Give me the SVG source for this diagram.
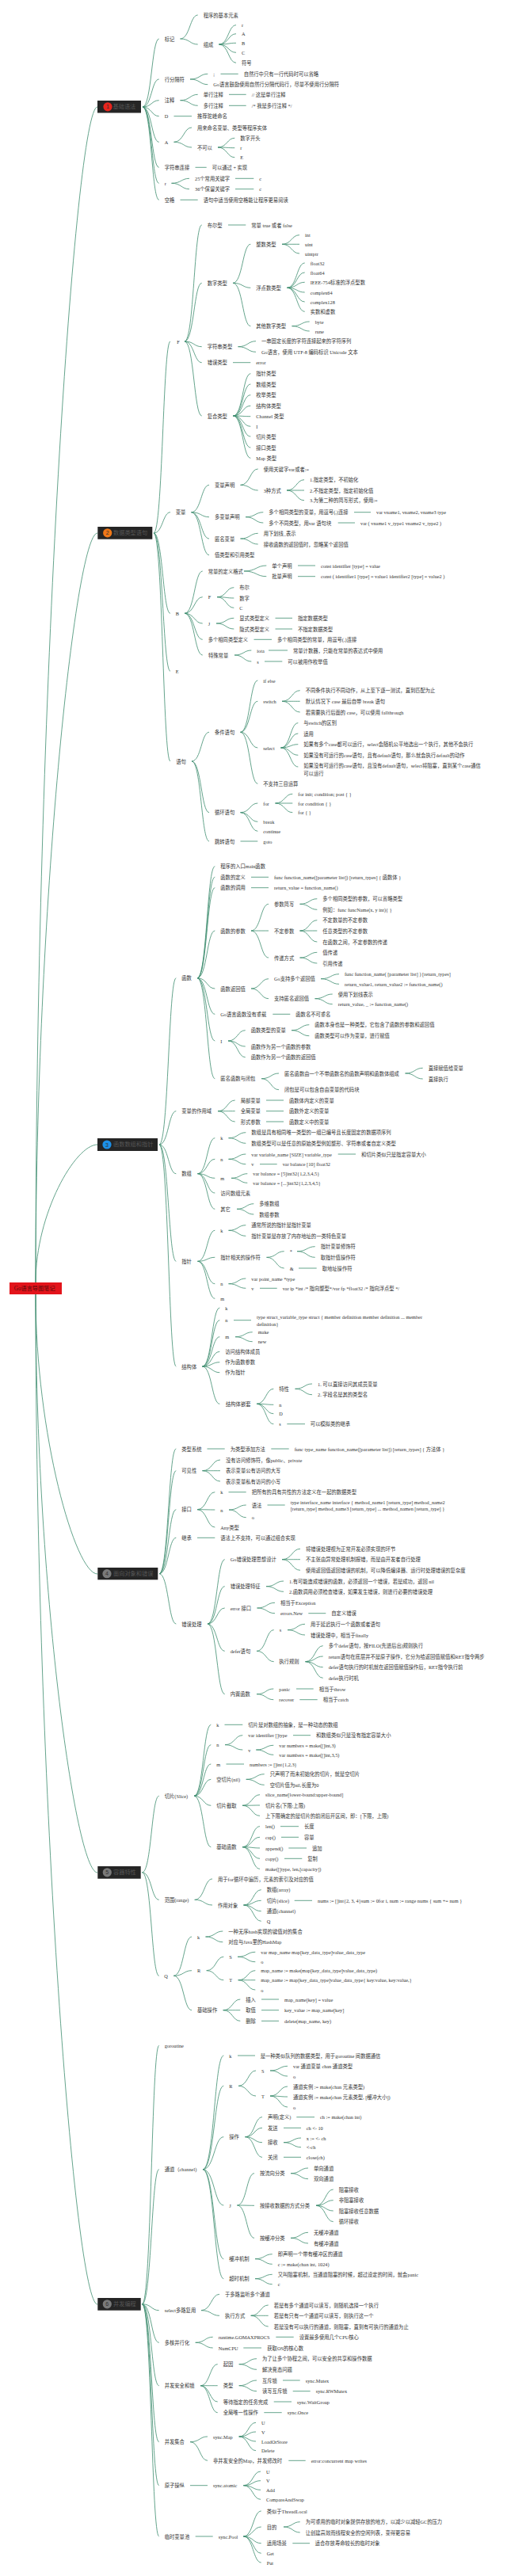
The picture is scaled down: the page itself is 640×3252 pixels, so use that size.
<svg xmlns="http://www.w3.org/2000/svg" width="640" height="3252" viewBox="0 0 640 3252">
<style>
text{font-family:"Liberation Serif","Noto Sans CJK SC",serif;font-size:6.3px;fill:#333;dominant-baseline:central}
.c{fill:none;stroke:#3e8d6e;stroke-width:0.8}
.bx{fill:#252525}
.bt{font-size:7.2px;fill:#555}
.num{font-family:"Liberation Sans","Noto Sans CJK SC",sans-serif;font-size:7px;text-anchor:middle}
.rt{font-size:7.2px;fill:#5a0a0a}
</style>
<rect width="640" height="3252" fill="#fff"/>
<g id="connectors">
<path class="c" d="M45 1619C45 877 95 135 123 135M45 1619C45 1146 95 673 123 673M45 1619C45 1532 95 1445 123 1445M45 1634C45 1810 95 1987 123 1987M45 1634C45 1999 95 2364 123 2364M45 1634C45 2271 95 2909 123 2909"/>
<path class="c" d="M180 135C191.4 135 191.4 49 200.7 49M180 135C191.4 135 191.4 100 200.7 100M180 135C191.4 135 191.4 126.7 200.7 126.7M180 135C191.4 135 191.4 146.7 200.7 146.7M180 135C191.4 135 191.4 179.3 200.7 179.3M180 135C191.4 135 191.4 211.3 200.7 211.3M180 135C191.4 135 191.4 231.3 200.7 231.3M180 135C191.4 135 191.4 252.3 200.7 252.3"/>
<path class="c" d="M227.5 49C239.7 49 239.7 19 249.7 19M227.5 49C239.7 49 239.7 56 249.7 56"/>
<path class="c" d="M276.5 56C288.3 56 288.3 31.7 298 31.7M276.5 56C288.3 56 288.3 42.7 298 42.7M276.5 56C288.3 56 288.3 54.3 298 54.3M276.5 56C288.3 56 288.3 66.3 298 66.3M276.5 56C288.3 56 288.3 79.3 298 79.3"/>
<path class="c" d="M240 100C252.3 100 252.3 93.3 262.3 93.3M240 100C252.3 100 252.3 106.7 262.3 106.7M278.5 93.3H300.7"/>
<path class="c" d="M227.5 126.7C239.7 126.7 239.7 119.3 249.7 119.3M227.5 126.7C239.7 126.7 239.7 133.3 249.7 133.3M289 119.3H310.7M289 133.3H310.7M219.5 146.7H242"/>
<path class="c" d="M219.5 179.3C231.9 179.3 231.9 161 242 161M219.5 179.3C231.9 179.3 231.9 186 242 186"/>
<path class="c" d="M275 186C286.7 186 286.7 174.3 296.3 174.3M275 186C286.7 186 286.7 186.7 296.3 186.7M275 186C286.7 186 286.7 198.7 296.3 198.7M246.5 211.3H260.7"/>
<path class="c" d="M216.5 231.3C228.9 231.3 228.9 225.3 239 225.3M216.5 231.3C228.9 231.3 228.9 238.7 239 238.7M297 225.3H320.3M297 238.7H320.3M227.5 252.3H249.7"/>
<path class="c" d="M194 673C205.5 673 205.5 431 215 431M194 673C205.5 673 205.5 646.7 215 646.7M194 673C205.5 673 205.5 774.3 215 774.3M194 673C205.5 673 205.5 847.3 215 847.3M194 673C205.5 673 205.5 961 215 961"/>
<path class="c" d="M233 431C244.9 431 244.9 284 254.7 284M233 431C244.9 431 244.9 357.3 254.7 357.3M233 431C244.9 431 244.9 437.7 254.7 437.7M233 431C244.9 431 244.9 457.7 254.7 457.7M233 431C244.9 431 244.9 525 254.7 525M288 284H310.3"/>
<path class="c" d="M294 357.3C306.3 357.3 306.3 308.3 316.3 308.3M294 357.3C306.3 357.3 306.3 363.3 316.3 363.3M294 357.3C306.3 357.3 306.3 411.7 316.3 411.7"/>
<path class="c" d="M356 308.3C368.1 308.3 368.1 296.7 378 296.7M356 308.3C368.1 308.3 368.1 308.3 378 308.3M356 308.3C368.1 308.3 368.1 320 378 320"/>
<path class="c" d="M362.5 363.3C374.7 363.3 374.7 332 384.7 332M362.5 363.3C374.7 363.3 374.7 344 384.7 344M362.5 363.3C374.7 363.3 374.7 356.3 384.7 356.3M362.5 363.3C374.7 363.3 374.7 369 384.7 369M362.5 363.3C374.7 363.3 374.7 381 384.7 381M362.5 363.3C374.7 363.3 374.7 393.3 384.7 393.3"/>
<path class="c" d="M368.5 411.7C380.7 411.7 380.7 406 390.7 406M368.5 411.7C380.7 411.7 380.7 418 390.7 418"/>
<path class="c" d="M300.5 437.7C312.9 437.7 312.9 430.7 323 430.7M300.5 437.7C312.9 437.7 312.9 444.3 323 444.3M294 457.7H316.3"/>
<path class="c" d="M294.5 525C306.5 525 306.5 471.7 316.3 471.7M294.5 525C306.5 525 306.5 485 316.3 485M294.5 525C306.5 525 306.5 498.7 316.3 498.7M294.5 525C306.5 525 306.5 512.3 316.3 512.3M294.5 525C306.5 525 306.5 525.7 316.3 525.7M294.5 525C306.5 525 306.5 538.3 316.3 538.3M294.5 525C306.5 525 306.5 551 316.3 551M294.5 525C306.5 525 306.5 565 316.3 565M294.5 525C306.5 525 306.5 578.3 316.3 578.3"/>
<path class="c" d="M241.5 646.7C253.9 646.7 253.9 612.3 264 612.3M241.5 646.7C253.9 646.7 253.9 652.7 264 652.7M241.5 646.7C253.9 646.7 253.9 680 264 680M241.5 646.7C253.9 646.7 253.9 700.7 264 700.7"/>
<path class="c" d="M303.5 612.3C315.7 612.3 315.7 592 325.7 592M303.5 612.3C315.7 612.3 315.7 619 325.7 619"/>
<path class="c" d="M362 619C374.1 619 374.1 605.7 384 605.7M362 619C374.1 619 374.1 619 384 619M362 619C374.1 619 374.1 631.7 384 631.7"/>
<path class="c" d="M310 652.7C322.3 652.7 322.3 646.7 332.3 646.7M310 652.7C322.3 652.7 322.3 660 332.3 660M447 646.7H468M426.7 660H448"/>
<path class="c" d="M303.5 680C315.7 680 315.7 673.3 325.7 673.3M303.5 680C315.7 680 315.7 687 325.7 687"/>
<path class="c" d="M233 774.3C245.5 774.3 245.5 721 255.7 721M233 774.3C245.5 774.3 245.5 753.7 255.7 753.7M233 774.3C245.5 774.3 245.5 787 255.7 787M233 774.3C245.5 774.3 245.5 807.3 255.7 807.3M233 774.3C245.5 774.3 245.5 827 255.7 827"/>
<path class="c" d="M308 721C323.6 721 323.6 714 336.3 714M308 721C323.6 721 323.6 727.7 336.3 727.7M376 714H398M376 727.7H398"/>
<path class="c" d="M274 753.7C285.7 753.7 285.7 741.7 295.3 741.7M274 753.7C285.7 753.7 285.7 755 295.3 755M274 753.7C285.7 753.7 285.7 767.3 295.3 767.3"/>
<path class="c" d="M273 787C285.3 787 285.3 780.3 295.3 780.3M273 787C285.3 787 285.3 794 295.3 794M347.5 780.3H369M347.5 794H369M320.5 807.3H343"/>
<path class="c" d="M296 827C307.7 827 307.7 821 317.3 821M296 827C307.7 827 307.7 835 317.3 835M339 821H363M334 835H356.3"/>
<path class="c" d="M242 961C254.1 961 254.1 924.3 264 924.3M242 961C254.1 961 254.1 1025.7 264 1025.7M242 961C254.1 961 254.1 1062 264 1062"/>
<path class="c" d="M303.5 924.3C315.5 924.3 315.5 859 325.3 859M303.5 924.3C315.5 924.3 315.5 885.3 325.3 885.3M303.5 924.3C315.5 924.3 315.5 944 325.3 944M303.5 924.3C315.5 924.3 315.5 989.3 325.3 989.3"/>
<path class="c" d="M356 885.3C368.5 885.3 368.5 871.7 378.7 871.7M356 885.3C368.5 885.3 368.5 885.3 378.7 885.3M356 885.3C368.5 885.3 368.5 899 378.7 899"/>
<path class="c" d="M354.5 944C366.5 944 366.5 912.7 376.3 912.7M354.5 944C366.5 944 366.5 926 376.3 926M354.5 944C366.5 944 366.5 939.7 376.3 939.7M354.5 944C366.5 944 366.5 953.3 376.3 953.3M354.5 944C366.5 944 366.5 968 376.3 968"/>
<path class="c" d="M303.5 1025.7C315.5 1025.7 315.5 1014 325.3 1014M303.5 1025.7C315.5 1025.7 315.5 1037.3 325.3 1037.3M303.5 1025.7C315.5 1025.7 315.5 1049.3 325.3 1049.3"/>
<path class="c" d="M347.5 1014C359.5 1014 359.5 1002.3 369.3 1002.3M347.5 1014C359.5 1014 359.5 1014 369.3 1014M347.5 1014C359.5 1014 359.5 1025.7 369.3 1025.7M303.5 1062H325.3"/>
<path class="c" d="M201 1445C212.7 1445 212.7 1234.7 222.3 1234.7M201 1445C212.7 1445 212.7 1402.7 222.3 1402.7M201 1445C212.7 1445 212.7 1481.7 222.3 1481.7M201 1445C212.7 1445 212.7 1592.3 222.3 1592.3M201 1445C212.7 1445 212.7 1725 222.3 1725"/>
<path class="c" d="M249 1234.7C261.3 1234.7 261.3 1093.7 271.3 1093.7M249 1234.7C261.3 1234.7 261.3 1107.3 271.3 1107.3M249 1234.7C261.3 1234.7 261.3 1120.7 271.3 1120.7M249 1234.7C261.3 1234.7 261.3 1175 271.3 1175M249 1234.7C261.3 1234.7 261.3 1248 271.3 1248M249 1234.7C261.3 1234.7 261.3 1280.3 271.3 1280.3M249 1234.7C261.3 1234.7 261.3 1314 271.3 1314M249 1234.7C261.3 1234.7 261.3 1361.7 271.3 1361.7M317 1107.3H339M317 1120.7H339"/>
<path class="c" d="M317 1175C329.1 1175 329.1 1141.3 339 1141.3M317 1175C329.1 1175 329.1 1175 339 1175M317 1175C329.1 1175 329.1 1209 339 1209"/>
<path class="c" d="M378.5 1141.3C390.5 1141.3 390.5 1134.7 400.3 1134.7M378.5 1141.3C390.5 1141.3 390.5 1148.3 400.3 1148.3M378.5 1175C390.5 1175 390.5 1161.7 400.3 1161.7M378.5 1175C390.5 1175 390.5 1175 400.3 1175M378.5 1175C390.5 1175 390.5 1189 400.3 1189M378.5 1209C390.5 1209 390.5 1202.3 400.3 1202.3M378.5 1209C390.5 1209 390.5 1216 400.3 1216"/>
<path class="c" d="M317 1248C329.1 1248 329.1 1235.7 339 1235.7M317 1248C329.1 1248 329.1 1260.7 339 1260.7M405 1235.7C417.7 1235.7 417.7 1229.7 428 1229.7M405 1235.7C417.7 1235.7 417.7 1242.3 428 1242.3M397.5 1260.7C409.7 1260.7 409.7 1255 419.7 1255M397.5 1260.7C409.7 1260.7 409.7 1267.7 419.7 1267.7M344.3 1280.3H366.3"/>
<path class="c" d="M288 1314C299.9 1314 299.9 1300.7 309.7 1300.7M288 1314C299.9 1314 299.9 1321 309.7 1321M288 1314C299.9 1314 299.9 1334.7 309.7 1334.7M368 1300.7C380.3 1300.7 380.3 1293.7 390.3 1293.7M368 1300.7C380.3 1300.7 380.3 1307.7 390.3 1307.7"/>
<path class="c" d="M330 1361.7C342.1 1361.7 342.1 1355 352 1355M330 1361.7C342.1 1361.7 342.1 1375.7 352 1375.7M511.5 1355C523.7 1355 523.7 1348.3 533.7 1348.3M511.5 1355C523.7 1355 523.7 1362 533.7 1362"/>
<path class="c" d="M275 1402.7C286.9 1402.7 286.9 1389 296.7 1389M275 1402.7C286.9 1402.7 286.9 1402.7 296.7 1402.7M275 1402.7C286.9 1402.7 286.9 1416 296.7 1416M336 1389H358M336 1402.7H358M336 1416H358"/>
<path class="c" d="M249.5 1481.7C261.5 1481.7 261.5 1436.7 271.3 1436.7M249.5 1481.7C261.5 1481.7 261.5 1463.3 271.3 1463.3M249.5 1481.7C261.5 1481.7 261.5 1487.3 271.3 1487.3M249.5 1481.7C261.5 1481.7 261.5 1506 271.3 1506M249.5 1481.7C261.5 1481.7 261.5 1526.3 271.3 1526.3"/>
<path class="c" d="M288.5 1436.7C300.5 1436.7 300.5 1429.7 310.3 1429.7M288.5 1436.7C300.5 1436.7 300.5 1443.3 310.3 1443.3M288.5 1463.3C300.5 1463.3 300.5 1457 310.3 1457M288.5 1463.3C300.5 1463.3 300.5 1469.7 310.3 1469.7M426.7 1457H449M328 1469.7H349.7"/>
<path class="c" d="M292 1487.3C303.2 1487.3 303.2 1481.7 312.3 1481.7M292 1487.3C303.2 1487.3 303.2 1493.3 312.3 1493.3M299 1526.3C310.7 1526.3 310.7 1519.7 320.3 1519.7M299 1526.3C310.7 1526.3 310.7 1533 320.3 1533"/>
<path class="c" d="M249.5 1592.3C261.5 1592.3 261.5 1553.3 271.3 1553.3M249.5 1592.3C261.5 1592.3 261.5 1587.3 271.3 1587.3M249.5 1592.3C261.5 1592.3 261.5 1620.7 271.3 1620.7M249.5 1592.3C261.5 1592.3 261.5 1639.3 271.3 1639.3"/>
<path class="c" d="M288.5 1553.3C300.5 1553.3 300.5 1546.7 310.3 1546.7M288.5 1553.3C300.5 1553.3 300.5 1560.3 310.3 1560.3M336.5 1587.3C348.7 1587.3 348.7 1579.7 358.7 1579.7M336.5 1587.3C348.7 1587.3 348.7 1601 358.7 1601M375 1579.7C387.5 1579.7 387.5 1573.7 397.7 1573.7M375 1579.7C387.5 1579.7 387.5 1587.3 397.7 1587.3M377 1601H399.7"/>
<path class="c" d="M288.5 1620.7C300.5 1620.7 300.5 1614 310.3 1614M288.5 1620.7C300.5 1620.7 300.5 1626.3 310.3 1626.3M328 1626.3H349.7"/>
<path class="c" d="M255.5 1725C267.5 1725 267.5 1651 277.3 1651M255.5 1725C267.5 1725 267.5 1666.7 277.3 1666.7M255.5 1725C267.5 1725 267.5 1687.7 277.3 1687.7M255.5 1725C267.5 1725 267.5 1706.3 277.3 1706.3M255.5 1725C267.5 1725 267.5 1719.7 277.3 1719.7M255.5 1725C267.5 1725 267.5 1732.7 277.3 1732.7M255.5 1725C267.5 1725 267.5 1772.3 277.3 1772.3M295 1666.7H317"/>
<path class="c" d="M297 1687.7C308.9 1687.7 308.9 1681.7 318.7 1681.7M297 1687.7C308.9 1687.7 308.9 1693.7 318.7 1693.7"/>
<path class="c" d="M324 1772.3C335.7 1772.3 335.7 1753.3 345.3 1753.3M324 1772.3C335.7 1772.3 335.7 1773.3 345.3 1773.3M324 1772.3C335.7 1772.3 335.7 1784.7 345.3 1784.7M324 1772.3C335.7 1772.3 335.7 1797.7 345.3 1797.7M372.5 1753.3C384.3 1753.3 384.3 1747 394 1747M372.5 1753.3C384.3 1753.3 384.3 1760.7 394 1760.7M362.3 1797.7H385"/>
<path class="c" d="M201 1986.7C212.7 1986.7 212.7 1829 222.3 1829M201 1986.7C212.7 1986.7 212.7 1856.7 222.3 1856.7M201 1986.7C212.7 1986.7 212.7 1905.7 222.3 1905.7M201 1986.7C212.7 1986.7 212.7 1941.3 222.3 1941.3M201 1986.7C212.7 1986.7 212.7 2050 222.3 2050M261.5 1829H283.7M342.3 1829H364.7"/>
<path class="c" d="M255.5 1856.7C267.9 1856.7 267.9 1843 278 1843M255.5 1856.7C267.9 1856.7 267.9 1856.7 278 1856.7M255.5 1856.7C267.9 1856.7 267.9 1870 278 1870"/>
<path class="c" d="M249 1905.7C261.3 1905.7 261.3 1883.7 271.3 1883.7M249 1905.7C261.3 1905.7 261.3 1906 271.3 1906M249 1905.7C261.3 1905.7 261.3 1928 271.3 1928M288.5 1883.7H310.7M289 1906C300.9 1906 300.9 1900 310.7 1900M289 1906C300.9 1906 300.9 1915.7 310.7 1915.7M337.5 1900H359.7M249 1941.3H271.3"/>
<path class="c" d="M262 2050C273.9 2050 273.9 1968.7 283.7 1968.7M262 2050C273.9 2050 273.9 2002.7 283.7 2002.7M262 2050C273.9 2050 273.9 2030 283.7 2030M262 2050C273.9 2050 273.9 2084.3 283.7 2084.3M262 2050C273.9 2050 273.9 2138.7 283.7 2138.7"/>
<path class="c" d="M356 1968.7C368.7 1968.7 368.7 1955.3 379 1955.3M356 1968.7C368.7 1968.7 368.7 1968.7 379 1968.7M356 1968.7C368.7 1968.7 368.7 1982.3 379 1982.3M336 2002.7C348.1 2002.7 348.1 1996 358 1996M336 2002.7C348.1 2002.7 348.1 2009.3 358 2009.3"/>
<path class="c" d="M324.5 2030C336.9 2030 336.9 2023.3 347 2023.3M324.5 2030C336.9 2030 336.9 2036.7 347 2036.7M389.3 2036.7H411.3"/>
<path class="c" d="M324 2084.3C335.9 2084.3 335.9 2057.7 345.7 2057.7M324 2084.3C335.9 2084.3 335.9 2097.7 345.7 2097.7M363 2057.7C375.1 2057.7 375.1 2050.3 385 2050.3M363 2057.7C375.1 2057.7 375.1 2064 385 2064"/>
<path class="c" d="M385.5 2097.7C397.7 2097.7 397.7 2077.7 407.7 2077.7M385.5 2097.7C397.7 2097.7 397.7 2091 407.7 2091M385.5 2097.7C397.7 2097.7 397.7 2104.7 407.7 2104.7M385.5 2097.7C397.7 2097.7 397.7 2118.3 407.7 2118.3"/>
<path class="c" d="M324 2138.7C335.7 2138.7 335.7 2132 345.3 2132M324 2138.7C335.7 2138.7 335.7 2145.7 345.3 2145.7M374 2132H395.7M378.3 2145.7H400.7"/>
<path class="c" d="M179.5 2363.8C191.2 2363.8 191.2 2267.3 200.7 2267.3M179.5 2363.8C191.2 2363.8 191.2 2398.3 200.7 2398.3M179.5 2363.8C191.2 2363.8 191.2 2494.3 200.7 2494.3"/>
<path class="c" d="M245 2267.3C256.7 2267.3 256.7 2177.3 266.3 2177.3M245 2267.3C256.7 2267.3 256.7 2202.7 266.3 2202.7M245 2267.3C256.7 2267.3 256.7 2227 266.3 2227M245 2267.3C256.7 2267.3 256.7 2246.3 266.3 2246.3M245 2267.3C256.7 2267.3 256.7 2279.3 266.3 2279.3M245 2267.3C256.7 2267.3 256.7 2331.7 266.3 2331.7M283.5 2177.3H306.3"/>
<path class="c" d="M284 2202.7C296.3 2202.7 296.3 2190.7 306.3 2190.7M284 2202.7C296.3 2202.7 296.3 2209 306.3 2209M370 2190.7H392M323.3 2209C335.4 2209 335.4 2203.3 345.3 2203.3M323.3 2209C335.4 2209 335.4 2215.3 345.3 2215.3M285.5 2227H308"/>
<path class="c" d="M310.7 2246.3C323.4 2246.3 323.4 2239.7 333.7 2239.7M310.7 2246.3C323.4 2246.3 323.4 2253.3 333.7 2253.3M306 2279.3C318.1 2279.3 318.1 2265.7 328 2265.7M306 2279.3C318.1 2279.3 318.1 2279 328 2279M306 2279.3C318.1 2279.3 318.1 2292.3 328 2292.3"/>
<path class="c" d="M306 2331.7C318.1 2331.7 318.1 2305.7 328 2305.7M306 2331.7C318.1 2331.7 318.1 2319.3 328 2319.3M306 2331.7C318.1 2331.7 318.1 2333 328 2333M306 2331.7C318.1 2331.7 318.1 2346.3 328 2346.3M306 2331.7C318.1 2331.7 318.1 2359.3 328 2359.3M354 2305.7H377M355 2319.3H377M364.3 2333H387M359 2346.3H381.3"/>
<path class="c" d="M245.7 2398.3C258 2398.3 258 2372 268 2372M245.7 2398.3C258 2398.3 258 2405 268 2405M307.5 2405C319.7 2405 319.7 2385.7 329.7 2385.7M307.5 2405C319.7 2405 319.7 2399.3 329.7 2399.3M307.5 2405C319.7 2405 319.7 2412.7 329.7 2412.7M307.5 2405C319.7 2405 319.7 2425.3 329.7 2425.3M371.7 2399.3H394"/>
<path class="c" d="M219.3 2494.3C231.8 2494.3 231.8 2445 242 2445M219.3 2494.3C231.8 2494.3 231.8 2487.7 242 2487.7M219.3 2494.3C231.8 2494.3 231.8 2537.7 242 2537.7M259.5 2445C271.5 2445 271.5 2438 281.3 2438M259.5 2445C271.5 2445 271.5 2451.7 281.3 2451.7"/>
<path class="c" d="M260.7 2487.7C272.6 2487.7 272.6 2470.3 282.3 2470.3M260.7 2487.7C272.6 2487.7 272.6 2499.7 282.3 2499.7M300 2470.3C312.3 2470.3 312.3 2464.3 322.3 2464.3M300 2470.3C312.3 2470.3 312.3 2476.7 322.3 2476.7M300.7 2499.7C312.6 2499.7 312.6 2487.7 322.3 2487.7M300.7 2499.7C312.6 2499.7 312.6 2499.7 322.3 2499.7M300.7 2499.7C312.6 2499.7 312.6 2512 322.3 2512"/>
<path class="c" d="M281.7 2537.7C293.6 2537.7 293.6 2524 303.3 2524M281.7 2537.7C293.6 2537.7 293.6 2537.7 303.3 2537.7M281.7 2537.7C293.6 2537.7 293.6 2551.3 303.3 2551.3M330 2524H352M330 2537.7H352M330 2551.3H352"/>
<path class="c" d="M179.5 2908.8C191.2 2908.8 191.2 2582.3 200.7 2582.3M179.5 2908.8C191.2 2908.8 191.2 2738.7 200.7 2738.7M179.5 2908.8C191.2 2908.8 191.2 2916.7 200.7 2916.7M179.5 2908.8C191.2 2908.8 191.2 2957.3 200.7 2957.3M179.5 2908.8C191.2 2908.8 191.2 3011.7 200.7 3011.7M179.5 2908.8C191.2 2908.8 191.2 3082.7 200.7 3082.7M179.5 2908.8C191.2 2908.8 191.2 3137.7 200.7 3137.7M179.5 2908.8C191.2 2908.8 191.2 3202 200.7 3202"/>
<path class="c" d="M256 2738.7C270.5 2738.7 270.5 2595 282.3 2595M256 2738.7C270.5 2738.7 270.5 2633.3 282.3 2633.3M256 2738.7C270.5 2738.7 270.5 2697.7 282.3 2697.7M256 2738.7C270.5 2738.7 270.5 2784 282.3 2784M256 2738.7C270.5 2738.7 270.5 2851.7 282.3 2851.7M256 2738.7C270.5 2738.7 270.5 2876.7 282.3 2876.7M300 2595H322"/>
<path class="c" d="M301 2633.3C313.1 2633.3 313.1 2614 323 2614M301 2633.3C313.1 2633.3 313.1 2646 323 2646M341 2614C353.1 2614 353.1 2608.3 363 2608.3M341 2614C353.1 2614 353.1 2621 363 2621M341 2646C353.1 2646 353.1 2634 363 2634M341 2646C353.1 2646 353.1 2647 363 2647M341 2646C353.1 2646 353.1 2660 363 2660"/>
<path class="c" d="M309.5 2697.7C321.3 2697.7 321.3 2672.7 331 2672.7M309.5 2697.7C321.3 2697.7 321.3 2686.3 331 2686.3M309.5 2697.7C321.3 2697.7 321.3 2704.7 331 2704.7M309.5 2697.7C321.3 2697.7 321.3 2723.3 331 2723.3M374.3 2672.7H397M358 2686.3H380M358 2723.3H380M358 2704.7C370.1 2704.7 370.1 2699 380 2699M358 2704.7C370.1 2704.7 370.1 2710.7 380 2710.7"/>
<path class="c" d="M299.5 2784C311.3 2784 311.3 2743.7 321 2743.7M299.5 2784C311.3 2784 311.3 2784.3 321 2784.3M299.5 2784C311.3 2784 311.3 2825.3 321 2825.3M367 2743.7C379.1 2743.7 379.1 2737 389 2737M367 2743.7C379.1 2743.7 379.1 2750.7 389 2750.7"/>
<path class="c" d="M399 2784.3C410.9 2784.3 410.9 2764 420.7 2764M399 2784.3C410.9 2784.3 410.9 2777.7 420.7 2777.7M399 2784.3C410.9 2784.3 410.9 2791 420.7 2791M399 2784.3C410.9 2784.3 410.9 2804.7 420.7 2804.7M367 2825.3C379.1 2825.3 379.1 2818.3 389 2818.3M367 2825.3C379.1 2825.3 379.1 2832 389 2832"/>
<path class="c" d="M322 2851.7C333.9 2851.7 333.9 2845.7 343.7 2845.7M322 2851.7C333.9 2851.7 333.9 2858.3 343.7 2858.3M322 2876.7C333.9 2876.7 333.9 2871.3 343.7 2871.3M322 2876.7C333.9 2876.7 333.9 2883.7 343.7 2883.7"/>
<path class="c" d="M254 2916.7C266.7 2916.7 266.7 2896.3 277 2896.3M254 2916.7C266.7 2916.7 266.7 2923.3 277 2923.3M316.7 2923.3C328.8 2923.3 328.8 2910 338.7 2910M316.7 2923.3C328.8 2923.3 328.8 2923.3 338.7 2923.3M316.7 2923.3C328.8 2923.3 328.8 2937 338.7 2937"/>
<path class="c" d="M246.7 2957.3C258.8 2957.3 258.8 2950.3 268.7 2950.3M246.7 2957.3C258.8 2957.3 258.8 2964 268.7 2964M348.3 2950.3H370.7M307.3 2964H330"/>
<path class="c" d="M253 3011.7C264.9 3011.7 264.9 2984.7 274.7 2984.7M253 3011.7C264.9 3011.7 264.9 3011.7 274.7 3011.7M253 3011.7C264.9 3011.7 264.9 3032 274.7 3032M253 3011.7C264.9 3011.7 264.9 3045.7 274.7 3045.7M301.7 2984.7C314 2984.7 314 2977.7 324 2977.7M301.7 2984.7C314 2984.7 314 2991.3 324 2991.3M301.7 3011.7C314 3011.7 314 3005 324 3005M301.7 3011.7C314 3011.7 314 3018.7 324 3018.7M357 3005H378.7M369.7 3018.7H391.7M345.7 3032H368M333.3 3045.7H355.7"/>
<path class="c" d="M240 3082.7C252.1 3082.7 252.1 3076 262 3076M240 3082.7C252.1 3082.7 252.1 3106.3 262 3106.3M301.7 3076C313.4 3076 313.4 3058.3 323 3058.3M301.7 3076C313.4 3076 313.4 3070 323 3070M301.7 3076C313.4 3076 313.4 3082 323 3082M301.7 3076C313.4 3076 313.4 3093.7 323 3093.7M364.3 3106.3H385.7"/>
<path class="c" d="M240 3137.7H262M307.3 3137.7C319.2 3137.7 319.2 3120 329 3120M307.3 3137.7C319.2 3137.7 319.2 3131.7 329 3131.7M307.3 3137.7C319.2 3137.7 319.2 3143.3 329 3143.3M307.3 3137.7C319.2 3137.7 319.2 3155.3 329 3155.3"/>
<path class="c" d="M246.7 3202H268.7M307.3 3202C319.6 3202 319.6 3170 329.7 3170M307.3 3202C319.6 3202 319.6 3190 329.7 3190M307.3 3202C319.6 3202 319.6 3210.7 329.7 3210.7M307.3 3202C319.6 3202 319.6 3223.3 329.7 3223.3M307.3 3202C319.6 3202 319.6 3235 329.7 3235M358 3190C369.4 3190 369.4 3183.7 378.7 3183.7M358 3190C369.4 3190 369.4 3197 378.7 3197M369.3 3210.7H391"/>
</g>
<g id="root"><rect x="12" y="1619" width="66" height="15" fill="#e3141b"/><text class="rt" x="17.7" y="1626.5">Go语言导图笔记</text></g>
<g id="b1"><rect class="bx" x="123" y="127" width="55" height="15.5"/><circle cx="136" cy="134.8" r="5.6" fill="#e8251d"/><text class="num" x="136" y="134.8" fill="#3a0a0a">1</text><text class="bt" x="142.5" y="134.8">基础语法</text></g>
<g id="b2"><rect class="bx" x="123.3" y="665" width="69" height="15.7"/><circle cx="135.7" cy="672.8" r="5.6" fill="#f07818"/><text class="num" x="135.7" y="672.8" fill="#4a2000">2</text><text class="bt" x="143" y="672.8">数据类型语句</text></g>
<g id="b3"><rect class="bx" x="123" y="1437" width="76" height="16"/><circle cx="135" cy="1445" r="5.6" fill="#1c90e8"/><text class="num" x="135" y="1445" fill="#0a2a4a">3</text><text class="bt" x="143" y="1445">函数数组和指针</text></g>
<g id="b4"><rect class="bx" x="123.3" y="1979" width="76" height="15.3"/><circle cx="135" cy="1986.7" r="5.6" fill="#7a7a7a"/><text class="num" x="135" y="1986.7" fill="#ddd">4</text><text class="bt" x="143" y="1986.7">面向对象和错误</text></g>
<g id="b5"><rect class="bx" x="123.3" y="2356" width="54.4" height="15.7"/><circle cx="135.3" cy="2363.8" r="5.6" fill="#7a7a7a"/><text class="num" x="135.3" y="2363.8" fill="#ddd">5</text><text class="bt" x="143" y="2363.8">容器特性</text></g>
<g id="b6"><rect class="bx" x="123.3" y="2901" width="54.4" height="15.7"/><circle cx="135.3" cy="2908.8" r="5.6" fill="#7a7a7a"/><text class="num" x="135.3" y="2908.8" fill="#ddd">6</text><text class="bt" x="143" y="2908.8">并发编程</text></g>
<g id="n1"><text x="207.7" y="49">标记</text></g>
<g id="n1a"><text x="256.7" y="19">程序的基本元素</text></g>
<g id="n1b"><text x="256.7" y="56">组成</text></g>
<g id="n1b1"><text x="305" y="31.7">r</text></g>
<g id="n1b2"><text x="305" y="42.7">A</text></g>
<g id="n1b3"><text x="305" y="54.3">B</text></g>
<g id="n1b4"><text x="305" y="66.3">C</text></g>
<g id="n1b5"><text x="305" y="79.3">符号</text></g>
<g id="n2"><text x="207.7" y="100">行分隔符</text></g>
<g id="n2a"><text x="269.3" y="93.3">;</text></g>
<g id="n2a1"><text x="307.7" y="93.3">自然行中只有一行代码时可以省略</text></g>
<g id="n2b"><text x="269.3" y="106.7">Go语言鼓励使用自然行分隔代码行，尽量不使用行分隔符</text></g>
<g id="n3"><text x="207.7" y="126.7">注释</text></g>
<g id="n3a"><text x="256.7" y="119.3">单行注释</text></g>
<g id="n3a1"><text x="317.7" y="119.3">// 这是单行注释</text></g>
<g id="n3b"><text x="256.7" y="133.3">多行注释</text></g>
<g id="n3b1"><text x="317.7" y="133.3">/* 我是多行注释 */</text></g>
<g id="n4"><text x="207.7" y="146.7">D</text></g>
<g id="n4a"><text x="249" y="146.7">推荐驼峰命名</text></g>
<g id="n5"><text x="207.7" y="179.3">A</text></g>
<g id="n5a"><text x="249" y="161">用来命名变量、类型等程序实体</text></g>
<g id="n5b"><text x="249" y="186">不可以</text></g>
<g id="n5b1"><text x="303.3" y="174.3">数字开头</text></g>
<g id="n5b2"><text x="303.3" y="186.7">r</text></g>
<g id="n5b3"><text x="303.3" y="198.7">E</text></g>
<g id="n6"><text x="207.7" y="211.3">字符串连接</text></g>
<g id="n6a"><text x="267.7" y="211.3">可以通过 + 实现</text></g>
<g id="n7"><text x="207.7" y="231.3">r</text></g>
<g id="n7a"><text x="246" y="225.3">25个常用关键字</text></g>
<g id="n7a1"><text x="327.3" y="225.3">c</text></g>
<g id="n7b"><text x="246" y="238.7">36个保留关键字</text></g>
<g id="n7b1"><text x="327.3" y="238.7">c</text></g>
<g id="n8"><text x="207.7" y="252.3">空格</text></g>
<g id="n8a"><text x="256.7" y="252.3">语句中适当使用空格能让程序更易阅读</text></g>
<g id="m1"><text x="223.3" y="431">F</text></g>
<g id="m1a"><text x="261.7" y="284">布尔型</text></g>
<g id="m1a1"><text x="317.3" y="284">常量 true 或者 false</text></g>
<g id="m1b"><text x="261.7" y="357.3">数字类型</text></g>
<g id="m1b1"><text x="323.3" y="308.3">整数类型</text></g>
<g id="m1b1a"><text x="385" y="296.7">int</text></g>
<g id="m1b1b"><text x="385" y="308.3">uint</text></g>
<g id="m1b1c"><text x="385" y="320">uintptr</text></g>
<g id="m1b2"><text x="323.3" y="363.3">浮点数类型</text></g>
<g id="m1b2a"><text x="391.7" y="332">float32</text></g>
<g id="m1b2b"><text x="391.7" y="344">float64</text></g>
<g id="m1b2c"><text x="391.7" y="356.3">IEEE-754标准的浮点型数</text></g>
<g id="m1b2d"><text x="391.7" y="369">complex64</text></g>
<g id="m1b2e"><text x="391.7" y="381">complex128</text></g>
<g id="m1b2f"><text x="391.7" y="393.3">实数和虚数</text></g>
<g id="m1b3"><text x="323.3" y="411.7">其他数字类型</text></g>
<g id="m1b3a"><text x="397.7" y="406">byte</text></g>
<g id="m1b3b"><text x="397.7" y="418">rune</text></g>
<g id="m1c"><text x="261.7" y="437.7">字符串类型</text></g>
<g id="m1c1"><text x="330" y="430.7">一串固定长度的字符连接起来的字符序列</text></g>
<g id="m1c2"><text x="330" y="444.3">Go语言，使用 UTF-8 编码标识 Unicode 文本</text></g>
<g id="m1d"><text x="261.7" y="457.7">错误类型</text></g>
<g id="m1d1"><text x="323.3" y="457.7">error</text></g>
<g id="m1e"><text x="261.7" y="525">复合类型</text></g>
<g id="m1e1"><text x="323.3" y="471.7">指针类型</text></g>
<g id="m1e2"><text x="323.3" y="485">数组类型</text></g>
<g id="m1e3"><text x="323.3" y="498.7">枚举类型</text></g>
<g id="m1e4"><text x="323.3" y="512.3">结构体类型</text></g>
<g id="m1e5"><text x="323.3" y="525.7">Channel 类型</text></g>
<g id="m1e6"><text x="323.3" y="538.3">I</text></g>
<g id="m1e7"><text x="323.3" y="551">切片类型</text></g>
<g id="m1e8"><text x="323.3" y="565">接口类型</text></g>
<g id="m1e9"><text x="323.3" y="578.3">Map 类型</text></g>
<g id="m2"><text x="221.7" y="646.7">变量</text></g>
<g id="m2a"><text x="271" y="612.3">变量声明</text></g>
<g id="m2a1"><text x="332.7" y="592">使用关键字var或者:=</text></g>
<g id="m2a2"><text x="332.7" y="619">3种方式</text></g>
<g id="m2a2a"><text x="391" y="605.7">1.指定类型，不初始化</text></g>
<g id="m2a2b"><text x="391" y="619">2.不指定类型，指定初始化值</text></g>
<g id="m2a2c"><text x="391" y="631.7">3.为第二种的简写形式，使用:=</text></g>
<g id="m2b"><text x="271" y="652.7">多变量声明</text></g>
<g id="m2b1"><text x="339.3" y="646.7">多个相同类型的变量，用逗号(,)连接</text></g>
<g id="m2b1a"><text x="475" y="646.7">var vname1, vname2, vname3 type</text></g>
<g id="m2b2"><text x="339.3" y="660">多个不同类型，用var 语句块</text></g>
<g id="m2b2a"><text x="455" y="660">var ( vname1 v_type1 vname2 v_type2 )</text></g>
<g id="m2c"><text x="271" y="680">匿名变量</text></g>
<g id="m2c1"><text x="332.7" y="673.3">用下划线_表示</text></g>
<g id="m2c2"><text x="332.7" y="687">接收函数的返回值时，忽略某个返回值</text></g>
<g id="m2d"><text x="271" y="700.7">值类型和引用类型</text></g>
<g id="m3"><text x="221.7" y="774.3">B</text></g>
<g id="m3a"><text x="262.7" y="721">常量的定义格式</text></g>
<g id="m3a1"><text x="343.3" y="714">单个声明</text></g>
<g id="m3a1a"><text x="405" y="714">const identifier [type] = value</text></g>
<g id="m3a2"><text x="343.3" y="727.7">批量声明</text></g>
<g id="m3a2a"><text x="405" y="727.7">const ( identifier1 [type] = value1 identifier2 [type] = value2 )</text></g>
<g id="m3b"><text x="262.7" y="753.7">F</text></g>
<g id="m3b1"><text x="302.3" y="741.7">布尔</text></g>
<g id="m3b2"><text x="302.3" y="755">数字</text></g>
<g id="m3b3"><text x="302.3" y="767.3">C</text></g>
<g id="m3c"><text x="262.7" y="787">J</text></g>
<g id="m3c1"><text x="302.3" y="780.3">显式类型定义</text></g>
<g id="m3c1a"><text x="376" y="780.3">指定数据类型</text></g>
<g id="m3c2"><text x="302.3" y="794">隐式类型定义</text></g>
<g id="m3c2a"><text x="376" y="794">不指定数据类型</text></g>
<g id="m3d"><text x="262.7" y="807.3">多个相同类型定义</text></g>
<g id="m3d1"><text x="350" y="807.3">多个相同类型的常量，用逗号(,)连接</text></g>
<g id="m3e"><text x="263" y="827">特殊常量</text></g>
<g id="m3e1"><text x="324.3" y="821">iota</text></g>
<g id="m3e1a"><text x="370" y="821">常量计数器，只能在常量的表达式中使用</text></g>
<g id="m3e2"><text x="324.3" y="835">s</text></g>
<g id="m3e2a"><text x="363.3" y="835">可以被用作枚举值</text></g>
<g id="m4"><text x="221.7" y="847.3">E</text></g>
<g id="m5"><text x="222.3" y="961">语句</text></g>
<g id="m5a"><text x="271" y="924.3">条件语句</text></g>
<g id="m5a1"><text x="332.3" y="859">if else</text></g>
<g id="m5a2"><text x="332.3" y="885.3">switch</text></g>
<g id="m5a2a"><text x="385.7" y="871.7">不同条件执行不同动作，从上至下逐一测试，直到匹配为止</text></g>
<g id="m5a2b"><text x="385.7" y="885.3">默认情况下 case 最后自带 break 语句</text></g>
<g id="m5a2c"><text x="385.7" y="899">若需要执行后面的 case，可以使用 fallthrough</text></g>
<g id="m5a3"><text x="332.3" y="944">select</text></g>
<g id="m5a3a"><text x="383.3" y="912.7">与switch的区别</text></g>
<g id="m5a3b"><text x="383.3" y="926">适用</text></g>
<g id="m5a3c"><text x="383.3" y="939.7">如果有多个case都可以运行，select会随机公平地选出一个执行，其他不会执行</text></g>
<g id="m5a3d"><text x="383.3" y="953.3">如果没有可运行的case语句，且有default语句，那么就会执行default的动作</text></g>
<g id="m5a3e"><text x="383.3" y="966.7">如果没有可运行的case语句，且没有default语句，select将阻塞，直到某个case通信</text><text x="383.3" y="976">可以运行</text></g>
<g id="m5a4"><text x="332.3" y="989.3">不支持三目运算</text></g>
<g id="m5b"><text x="271" y="1025.7">循环语句</text></g>
<g id="m5b1"><text x="332.3" y="1014">for</text></g>
<g id="m5b1a"><text x="376.3" y="1002.3">for init; condition; post { }</text></g>
<g id="m5b1b"><text x="376.3" y="1014">for condition { }</text></g>
<g id="m5b1c"><text x="376.3" y="1025.7">for { }</text></g>
<g id="m5b2"><text x="332.3" y="1037.3">break</text></g>
<g id="m5b3"><text x="332.3" y="1049.3">continue</text></g>
<g id="m5c"><text x="271" y="1062">跳转语句</text></g>
<g id="m5c1"><text x="332.3" y="1062">goto</text></g>
<g id="p1"><text x="229.3" y="1234.7">函数</text></g>
<g id="p1a"><text x="278.3" y="1093.7">程序的入口main函数</text></g>
<g id="p1b"><text x="278.3" y="1107.3">函数的定义</text></g>
<g id="p1b1"><text x="346" y="1107.3">func function_name([parameter list]) [return_types] { 函数体 }</text></g>
<g id="p1c"><text x="278.3" y="1120.7">函数的调用</text></g>
<g id="p1c1"><text x="346" y="1120.7">return_value = function_name()</text></g>
<g id="p1d"><text x="278.3" y="1175">函数的参数</text></g>
<g id="p1d1"><text x="346" y="1141.3">参数简写</text></g>
<g id="p1d1a"><text x="407.3" y="1134.7">多个相同类型的参数，可以省略类型</text></g>
<g id="p1d1b"><text x="407.3" y="1148.3">例如：func funcName(x, y int){ }</text></g>
<g id="p1d2"><text x="346" y="1175">不定参数</text></g>
<g id="p1d2a"><text x="407.3" y="1161.7">不定数量的不定参数</text></g>
<g id="p1d2b"><text x="407.3" y="1175">任意类型的不定参数</text></g>
<g id="p1d2c"><text x="407.3" y="1189">在函数之间，不定参数的传递</text></g>
<g id="p1d3"><text x="346" y="1209">传递方式</text></g>
<g id="p1d3a"><text x="407.3" y="1202.3">值传递</text></g>
<g id="p1d3b"><text x="407.3" y="1216">引用传递</text></g>
<g id="p1e"><text x="278.3" y="1248">函数返回值</text></g>
<g id="p1e1"><text x="346" y="1235.7">Go支持多个返回值</text></g>
<g id="p1e1a"><text x="435" y="1229.7">func function_name( [parameter list] ) [return_types]</text></g>
<g id="p1e1b"><text x="435" y="1242.3">return_value1, return_value2 := function_name()</text></g>
<g id="p1e2"><text x="346" y="1260.7">支持匿名返回值</text></g>
<g id="p1e2a"><text x="426.7" y="1255">使用下划线表示</text></g>
<g id="p1e2b"><text x="426.7" y="1267.7">return_value, _ := function_name()</text></g>
<g id="p1f"><text x="278.3" y="1280.3">Go语言函数没有重载</text></g>
<g id="p1f1"><text x="373.3" y="1280.3">函数名不可重名</text></g>
<g id="p1g"><text x="278.3" y="1314">I</text></g>
<g id="p1g1"><text x="316.7" y="1300.7">函数类型的变量</text></g>
<g id="p1g1a"><text x="397.3" y="1293.7">函数本身也是一种类型，它包含了函数的参数和返回值</text></g>
<g id="p1g1b"><text x="397.3" y="1307.7">函数类型可以作为变量，进行赋值</text></g>
<g id="p1g2"><text x="316.7" y="1321">函数作为另一个函数的参数</text></g>
<g id="p1g3"><text x="316.7" y="1334.7">函数作为另一个函数的返回值</text></g>
<g id="p1h"><text x="278.3" y="1361.7">匿名函数与闭包</text></g>
<g id="p1h1"><text x="359" y="1355">匿名函数由一个不带函数名的函数声明和函数体组成</text></g>
<g id="p1h1a"><text x="540.7" y="1348.3">直接赋值给变量</text></g>
<g id="p1h1b"><text x="540.7" y="1362">直接执行</text></g>
<g id="p1h2"><text x="359" y="1375.7">闭包是可以包含自由变量的代码块</text></g>
<g id="p2"><text x="229.3" y="1402.7">变量的作用域</text></g>
<g id="p2a"><text x="303.7" y="1389">局部变量</text></g>
<g id="p2a1"><text x="365" y="1389">函数体内定义的变量</text></g>
<g id="p2b"><text x="303.7" y="1402.7">全局变量</text></g>
<g id="p2b1"><text x="365" y="1402.7">函数外定义的变量</text></g>
<g id="p2c"><text x="303.7" y="1416">形式参数</text></g>
<g id="p2c1"><text x="365" y="1416">函数定义中的变量</text></g>
<g id="p3"><text x="229.3" y="1481.7">数组</text></g>
<g id="p3a"><text x="278.3" y="1436.7">k</text></g>
<g id="p3a1"><text x="317.3" y="1429.7">数组是具有相同唯一类型的一组已编号且长度固定的数据项序列</text></g>
<g id="p3a2"><text x="317.3" y="1443.3">数组类型可以是任意的原始类型例如整形、字符串或者自定义类型</text></g>
<g id="p3b"><text x="278.3" y="1463.3">n</text></g>
<g id="p3b1"><text x="317.3" y="1457">var variable_name [SIZE] variable_type</text></g>
<g id="p3b1a"><text x="456" y="1457">和切片类似只是指定容量大小</text></g>
<g id="p3b2"><text x="317.3" y="1469.7">v</text></g>
<g id="p3b2a"><text x="356.7" y="1469.7">var balance [10] float32</text></g>
<g id="p3c"><text x="278.3" y="1487.3">m</text></g>
<g id="p3c1"><text x="319.3" y="1481.7">var balance = [5]int32{1,2,3,4,5}</text></g>
<g id="p3c2"><text x="319.3" y="1493.3">var balance = [...]int32{1,2,3,4,5}</text></g>
<g id="p3d"><text x="278.3" y="1506">访问数组元素</text></g>
<g id="p3e"><text x="278.3" y="1526.3">其它</text></g>
<g id="p3e1"><text x="327.3" y="1519.7">多维数组</text></g>
<g id="p3e2"><text x="327.3" y="1533">数组参数</text></g>
<g id="p4"><text x="229.3" y="1592.3">指针</text></g>
<g id="p4a"><text x="278.3" y="1553.3">k</text></g>
<g id="p4a1"><text x="317.3" y="1546.7">通常所说的指针是指针变量</text></g>
<g id="p4a2"><text x="317.3" y="1560.3">指针变量是存放了内存地址的一类特色变量</text></g>
<g id="p4b"><text x="278.3" y="1587.3">指针相关的操作符</text></g>
<g id="p4b1"><text x="365.7" y="1579.7">*</text></g>
<g id="p4b1a"><text x="404.7" y="1573.7">指针变量修饰符</text></g>
<g id="p4b1b"><text x="404.7" y="1587.3">取指针值操作符</text></g>
<g id="p4b2"><text x="365.7" y="1601">&amp;</text></g>
<g id="p4b2a"><text x="406.7" y="1601">取地址操作符</text></g>
<g id="p4c"><text x="278.3" y="1620.7">n</text></g>
<g id="p4c1"><text x="317.3" y="1614">var point_name *type</text></g>
<g id="p4c2"><text x="317.3" y="1626.3">v</text></g>
<g id="p4c2a"><text x="356.7" y="1626.3">var ip *int /* 指向整型*/var fp *float32 /* 指向浮点型 */</text></g>
<g id="p4d"><text x="278.3" y="1639.3">m</text></g>
<g id="p5"><text x="229.3" y="1725">结构体</text></g>
<g id="p5a"><text x="284.3" y="1651">k</text></g>
<g id="p5b"><text x="284.3" y="1666.7">n</text></g>
<g id="p5b1"><text x="324" y="1662.7">type struct_variable_type struct { member definition member definition ... member</text><text x="324" y="1671">definition}</text></g>
<g id="p5c"><text x="284.3" y="1687.7">m</text></g>
<g id="p5c1"><text x="325.7" y="1681.7">make</text></g>
<g id="p5c2"><text x="325.7" y="1693.7">new</text></g>
<g id="p5d"><text x="284.3" y="1706.3">访问结构体成员</text></g>
<g id="p5e"><text x="284.3" y="1719.7">作为函数参数</text></g>
<g id="p5f"><text x="284.3" y="1732.7">作为指针</text></g>
<g id="p5g"><text x="285" y="1772.3">结构体嵌套</text></g>
<g id="p5g1"><text x="352.3" y="1753.3">特性</text></g>
<g id="p5g1a"><text x="401" y="1747">1. 可以直接访问其成员变量</text></g>
<g id="p5g1b"><text x="401" y="1760.7">2. 字段名是其的类型名</text></g>
<g id="p5g2"><text x="352.3" y="1773.3">n</text></g>
<g id="p5g3"><text x="352.3" y="1784.7">D</text></g>
<g id="p5g4"><text x="352.3" y="1797.7">s</text></g>
<g id="p5g4a"><text x="391.7" y="1797.7">可以模拟类的继承</text></g>
<g id="q1"><text x="229.3" y="1829">类型系统</text></g>
<g id="q1a"><text x="290.7" y="1829">为类型添加方法</text></g>
<g id="q1a1"><text x="371.7" y="1829">func type_name function_name([parameter list]) [return_types] { 方法体 }</text></g>
<g id="q2"><text x="229.3" y="1856.7">可见性</text></g>
<g id="q2a"><text x="285" y="1843">没有访问修饰符，像public、private</text></g>
<g id="q2b"><text x="285" y="1856.7">表示变量公有访问的大写</text></g>
<g id="q2c"><text x="285" y="1870">表示变量私有访问的小写</text></g>
<g id="q3"><text x="229.3" y="1905.7">接口</text></g>
<g id="q3a"><text x="278.3" y="1883.7">k</text></g>
<g id="q3a1"><text x="317.7" y="1883.7">把所有的具有共性的方法定义在一起的数据类型</text></g>
<g id="q3b"><text x="278.3" y="1906">n</text></g>
<g id="q3b1"><text x="317.7" y="1900">语法</text></g>
<g id="q3b1a"><text x="366.7" y="1896">type interface_name interface { method_name1 [return_type] method_name2</text><text x="366.7" y="1904.3">[return_type] method_name3 [return_type] ... method_namen [return_type] }</text></g>
<g id="q3b2"><text x="317.7" y="1915.7">o</text></g>
<g id="q3c"><text x="278.3" y="1928">Any类型</text></g>
<g id="q4"><text x="229.3" y="1941.3">继承</text></g>
<g id="q4a"><text x="278.3" y="1941.3">语法上不支持，可以通过组合实现</text></g>
<g id="q5"><text x="229.3" y="2050">错误处理</text></g>
<g id="q5a"><text x="290.7" y="1968.7">Go错误处理思想设计</text></g>
<g id="q5a1"><text x="386" y="1955.3">将错误处理视为正常开发必须实现的环节</text></g>
<g id="q5a2"><text x="386" y="1968.7">不主张由异常处理机制报错，而是由开发者自行处理</text></g>
<g id="q5a3"><text x="386" y="1982.3">使用返回值返回错误的机制，可以降低编译器、运行时处理错误的复杂度</text></g>
<g id="q5b"><text x="290.7" y="2002.7">错误处理特征</text></g>
<g id="q5b1"><text x="365" y="1996">1.有可能造成错误的函数，必须返回一个错误，若是成功，返回 nil</text></g>
<g id="q5b2"><text x="365" y="2009.3">2.函数调用必须检查错误，如果发生错误，则进行必要的错误处理</text></g>
<g id="q5c"><text x="290.7" y="2030">error 接口</text></g>
<g id="q5c1"><text x="354" y="2023.3">相当于Exception</text></g>
<g id="q5c2"><text x="354" y="2036.7">errors.New</text></g>
<g id="q5c2a"><text x="418.3" y="2036.7">自定义错误</text></g>
<g id="q5d"><text x="290.7" y="2084.3">defer语句</text></g>
<g id="q5d1"><text x="352.7" y="2057.7">s</text></g>
<g id="q5d1a"><text x="392" y="2050.3">用于延迟执行一个函数或者语句</text></g>
<g id="q5d1b"><text x="392" y="2064">错误处理中，相当于finally</text></g>
<g id="q5d2"><text x="352.3" y="2097.7">执行规则</text></g>
<g id="q5d2a"><text x="414.7" y="2077.7">多个defer语句，按FILO(先进后出)规则执行</text></g>
<g id="q5d2b"><text x="414.7" y="2091">return语句在底层并不是原子操作，它分为给返回值赋值和RET指令两步</text></g>
<g id="q5d2c"><text x="414.7" y="2104.7">defer语句执行的时机就在返回值赋值操作后，RET指令执行前</text></g>
<g id="q5d2d"><text x="414.7" y="2118.3">defer执行时机</text></g>
<g id="q5e"><text x="290.7" y="2138.7">内置函数</text></g>
<g id="q5e1"><text x="352.3" y="2132">panic</text></g>
<g id="q5e1a"><text x="402.7" y="2132">相当于throw</text></g>
<g id="q5e2"><text x="352.3" y="2145.7">recover</text></g>
<g id="q5e2a"><text x="407.7" y="2145.7">相当于catch</text></g>
<g id="s1"><text x="207.7" y="2267.3">切片(Slice)</text></g>
<g id="s1a"><text x="273.3" y="2177.3">k</text></g>
<g id="s1a1"><text x="313.3" y="2177.3">切片是对数组的抽象，是一种动态的数组</text></g>
<g id="s1b"><text x="273.3" y="2202.7">n</text></g>
<g id="s1b1"><text x="313.3" y="2190.7">var identifier []type</text></g>
<g id="s1b1a"><text x="399" y="2190.7">和数组类似只是没有指定容量大小</text></g>
<g id="s1b2"><text x="313.3" y="2209">v</text></g>
<g id="s1b2a"><text x="352.3" y="2203.3">var numbers = make([]int,3)</text></g>
<g id="s1b2b"><text x="352.3" y="2215.3">var numbers = make([]int,3,5)</text></g>
<g id="s1c"><text x="273.3" y="2227">m</text></g>
<g id="s1c1"><text x="315" y="2227">numbers := []int{1,2,3}</text></g>
<g id="s1d"><text x="273.3" y="2246.3">空切片(nil)</text></g>
<g id="s1d1"><text x="340.7" y="2239.7">只声明了而未初始化的切片，就是空切片</text></g>
<g id="s1d2"><text x="340.7" y="2253.3">空切片值为nil,长度为0</text></g>
<g id="s1e"><text x="273.3" y="2279.3">切片截取</text></g>
<g id="s1e1"><text x="335" y="2265.7">slice_name[lower-bound:upper-bound]</text></g>
<g id="s1e2"><text x="335" y="2279">切片名(下限:上限)</text></g>
<g id="s1e3"><text x="335" y="2292.3">上下限确定的是切片的前闭后开区间，即：[下限，上限)</text></g>
<g id="s1f"><text x="273.3" y="2331.7">基础函数</text></g>
<g id="s1f1"><text x="335" y="2305.7">len()</text></g>
<g id="s1f1a"><text x="384" y="2305.7">长度</text></g>
<g id="s1f2"><text x="335" y="2319.3">cap()</text></g>
<g id="s1f2a"><text x="384" y="2319.3">容量</text></g>
<g id="s1f3"><text x="335" y="2333">append()</text></g>
<g id="s1f3a"><text x="394" y="2333">追加</text></g>
<g id="s1f4"><text x="335" y="2346.3">copy()</text></g>
<g id="s1f4a"><text x="388.3" y="2346.3">复制</text></g>
<g id="s1f5"><text x="335" y="2359.3">make([]type, len,[capacity])</text></g>
<g id="s2"><text x="207.7" y="2398.3">范围(range)</text></g>
<g id="s2a"><text x="275" y="2372">用于for循环中遍历，元素的索引及对应的值</text></g>
<g id="s2b"><text x="275" y="2405">作用对象</text></g>
<g id="s2b1"><text x="336.7" y="2385.7">数组(array)</text></g>
<g id="s2b2"><text x="336.7" y="2399.3">切片(slice)</text></g>
<g id="s2b2a"><text x="401" y="2399.3">nums := []int{2, 3, 4}sum := 0for i, num := range nums { sum += num }</text></g>
<g id="s2b3"><text x="336.7" y="2412.7">通道(channel)</text></g>
<g id="s2b4"><text x="336.7" y="2425.3">Q</text></g>
<g id="s3"><text x="207.3" y="2494.3">Q</text></g>
<g id="s3a"><text x="249" y="2445">k</text></g>
<g id="s3a1"><text x="288.3" y="2438">一种无序hash实现的键值对的集合</text></g>
<g id="s3a2"><text x="288.3" y="2451.7">对应与Java里的HashMap</text></g>
<g id="s3b"><text x="249" y="2487.7">R</text></g>
<g id="s3b1"><text x="289.3" y="2470.3">S</text></g>
<g id="s3b1a"><text x="329.3" y="2464.3">var map_name map[key_data_type]value_data_type</text></g>
<g id="s3b1b"><text x="329.3" y="2476.7">o</text></g>
<g id="s3b2"><text x="289.3" y="2499.7">T</text></g>
<g id="s3b2a"><text x="329.3" y="2487.7">map_name := make(map[key_data_type]value_data_type)</text></g>
<g id="s3b2b"><text x="329.3" y="2499.7">map_name := map[key_data_type]value_data_type{ key:value, key:value,}</text></g>
<g id="s3b2c"><text x="329.3" y="2512">o</text></g>
<g id="s3c"><text x="249" y="2537.7">基础操作</text></g>
<g id="s3c1"><text x="310.3" y="2524">插入</text></g>
<g id="s3c1a"><text x="359" y="2524">map_name[key] = value</text></g>
<g id="s3c2"><text x="310.3" y="2537.7">取值</text></g>
<g id="s3c2a"><text x="359" y="2537.7">key_value := map_name[key]</text></g>
<g id="s3c3"><text x="310.3" y="2551.3">删除</text></g>
<g id="s3c3a"><text x="359" y="2551.3">delete(map_name, key)</text></g>
<g id="u1"><text x="207.7" y="2582.3">goroutine</text></g>
<g id="u2"><text x="207.7" y="2738.7">通道（channel)</text></g>
<g id="u2a"><text x="289.3" y="2595">k</text></g>
<g id="u2a1"><text x="328.7" y="2595">是一种类似队列的数据类型，用于goroutine 间数据通信</text></g>
<g id="u2b"><text x="289.3" y="2633.3">R</text></g>
<g id="u2b1"><text x="330" y="2614">S</text></g>
<g id="u2b1a"><text x="370" y="2608.3">var 通道变量 chan 通道类型</text></g>
<g id="u2b1b"><text x="370" y="2621">o</text></g>
<g id="u2b2"><text x="330" y="2646">T</text></g>
<g id="u2b2a"><text x="370" y="2634">通道实例 := make(chan 元素类型)</text></g>
<g id="u2b2b"><text x="370" y="2647">通道实例 := make(chan 元素类型, [缓冲大小])</text></g>
<g id="u2b2c"><text x="370" y="2660">o</text></g>
<g id="u2c"><text x="289.3" y="2697.7">操作</text></g>
<g id="u2c1"><text x="338" y="2672.7">声明(定义)</text></g>
<g id="u2c1a"><text x="404" y="2672.7">ch := make(chan int)</text></g>
<g id="u2c2"><text x="338" y="2686.3">发送</text></g>
<g id="u2c2a"><text x="386.7" y="2686.3">ch &lt;- 10</text></g>
<g id="u2c3"><text x="338" y="2704.7">接收</text></g>
<g id="u2c3a"><text x="386.7" y="2699">x := &lt;- ch</text></g>
<g id="u2c3b"><text x="386.7" y="2710.7">&lt;-ch</text></g>
<g id="u2c4"><text x="338" y="2723.3">关闭</text></g>
<g id="u2c4a"><text x="386.7" y="2723.3">close(ch)</text></g>
<g id="u2d"><text x="289.3" y="2784">J</text></g>
<g id="u2d1"><text x="328" y="2743.7">按流向分类</text></g>
<g id="u2d1a"><text x="396" y="2737">单向通道</text></g>
<g id="u2d1b"><text x="396" y="2750.7">双向通道</text></g>
<g id="u2d2"><text x="328" y="2784.3">按接收数据的方式分类</text></g>
<g id="u2d2a"><text x="427.7" y="2764">阻塞接收</text></g>
<g id="u2d2b"><text x="427.7" y="2777.7">非阻塞接收</text></g>
<g id="u2d2c"><text x="427.7" y="2791">阻塞接收任意数据</text></g>
<g id="u2d2d"><text x="427.7" y="2804.7">循环接收</text></g>
<g id="u2d3"><text x="328" y="2825.3">按缓冲分类</text></g>
<g id="u2d3a"><text x="396" y="2818.3">无缓冲通道</text></g>
<g id="u2d3b"><text x="396" y="2832">有缓冲通道</text></g>
<g id="u2e"><text x="289.3" y="2851.7">缓冲机制</text></g>
<g id="u2e1"><text x="350.7" y="2845.7">即声明一个带有缓冲区的通道</text></g>
<g id="u2e2"><text x="350.7" y="2858.3">c := make(chan int, 1024)</text></g>
<g id="u2f"><text x="289.3" y="2876.7">超时机制</text></g>
<g id="u2f1"><text x="350.7" y="2871.3">又叫阻塞机制，当通道阻塞的时候，超过设定的时间，就会panic</text></g>
<g id="u2f2"><text x="350.7" y="2883.7">c</text></g>
<g id="u3"><text x="207.7" y="2916.7">select多路复用</text></g>
<g id="u3a"><text x="284" y="2896.3">于多路监听多个通道</text></g>
<g id="u3b"><text x="284" y="2923.3">执行方式</text></g>
<g id="u3b1"><text x="345.7" y="2910">若是有多个通道可以读写，则随机选择一个执行</text></g>
<g id="u3b2"><text x="345.7" y="2923.3">若是有只有一个通道可以读写，则执行这一个</text></g>
<g id="u3b3"><text x="345.7" y="2937">若是没有可以执行的通道，则阻塞，直到有可执行的通道为止</text></g>
<g id="u4"><text x="207.7" y="2957.3">多核并行化</text></g>
<g id="u4a"><text x="275.7" y="2950.3">runtime.GOMAXPROCS</text></g>
<g id="u4a1"><text x="377.7" y="2950.3">设置最多使用几个CPU核心</text></g>
<g id="u4b"><text x="275.7" y="2964">NumCPU</text></g>
<g id="u4b1"><text x="337.3" y="2964">获取OS的核心数</text></g>
<g id="u5"><text x="207.7" y="3011.7">并发安全和锁</text></g>
<g id="u5a"><text x="281.7" y="2984.7">起因</text></g>
<g id="u5a1"><text x="331" y="2977.7">为了让多个协程之间，可以安全的共享和操作数据</text></g>
<g id="u5a2"><text x="331" y="2991.3">解决竞态问题</text></g>
<g id="u5b"><text x="281.7" y="3011.7">类型</text></g>
<g id="u5b1"><text x="331" y="3005">互斥锁</text></g>
<g id="u5b1a"><text x="385.7" y="3005">sync.Mutex</text></g>
<g id="u5b2"><text x="331" y="3018.7">读写互斥锁</text></g>
<g id="u5b2a"><text x="398.7" y="3018.7">sync.RWMutex</text></g>
<g id="u5c"><text x="281.7" y="3032">等待指定的任务完成</text></g>
<g id="u5c1"><text x="375" y="3032">sync.WaitGroup</text></g>
<g id="u5d"><text x="281.7" y="3045.7">全局唯一性操作</text></g>
<g id="u5d1"><text x="362.7" y="3045.7">sync.Once</text></g>
<g id="u6"><text x="207.7" y="3082.7">并发集合</text></g>
<g id="u6a"><text x="269" y="3076">sync.Map</text></g>
<g id="u6a1"><text x="330" y="3058.3">U</text></g>
<g id="u6a2"><text x="330" y="3070">V</text></g>
<g id="u6a3"><text x="330" y="3082">LoadOrStore</text></g>
<g id="u6a4"><text x="330" y="3093.7">Delete</text></g>
<g id="u6b"><text x="269" y="3106.3">非并发安全的Map，并发修改时</text></g>
<g id="u6b1"><text x="392.7" y="3106.3">error:concurrent map writes</text></g>
<g id="u7"><text x="207.7" y="3137.7">原子操纵</text></g>
<g id="u7a"><text x="269" y="3137.7">sync.atomic</text></g>
<g id="u7a1"><text x="336" y="3120">U</text></g>
<g id="u7a2"><text x="336" y="3131.7">V</text></g>
<g id="u7a3"><text x="336" y="3143.3">Add</text></g>
<g id="u7a4"><text x="336" y="3155.3">CompareAndSwap</text></g>
<g id="u8"><text x="207.7" y="3202">临时变量池</text></g>
<g id="u8a"><text x="275.7" y="3202">sync.Pool</text></g>
<g id="u8a1"><text x="336.7" y="3170">类似于ThreadLocal</text></g>
<g id="u8a2"><text x="336.7" y="3190">目的</text></g>
<g id="u8a2a"><text x="385.7" y="3183.7">为可重用的临时对象提供存放的地方，以减少以减轻GC的压力</text></g>
<g id="u8a2b"><text x="385.7" y="3197">让创建高效而线程安全的空闲列表，变得更容易</text></g>
<g id="u8a3"><text x="336.7" y="3210.7">适用场景</text></g>
<g id="u8a3a"><text x="397.7" y="3210.7">适合存放寿命较长的临时对象</text></g>
<g id="u8a4"><text x="336.7" y="3223.3">Get</text></g>
<g id="u8a5"><text x="336.7" y="3235">Put</text></g>
</svg>
